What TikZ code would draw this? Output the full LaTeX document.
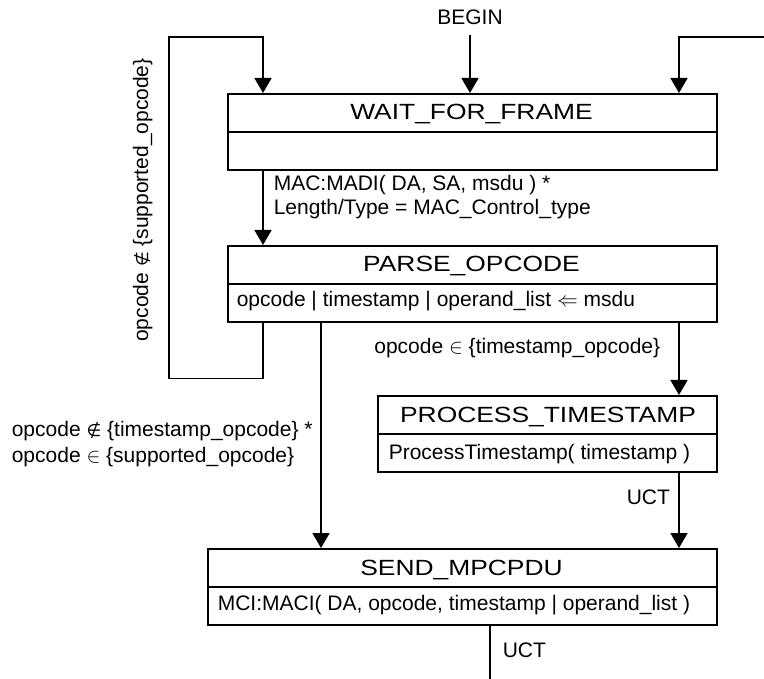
\documentclass[tikz,border=0pt]{standalone}
\usepackage{fontspec}
\setmainfont{Liberation Sans}
\newfontfamily\titlefont{Liberation Sans}[FakeStretch=1.2]
\newfontfamily\symbfont{DejaVu Sans}
\newcommand{\notelem}{{\symbfont\fontsize{17}{25}\selectfont ∉}}
\usetikzlibrary{arrows.meta}

\begin{document}
\begin{tikzpicture}[x=1pt,y=-1pt,line width=1.6pt,
  lbl/.style={font=\fontsize{21}{25}\selectfont,inner sep=0pt},
  ttl/.style={font=\titlefont\fontsize{22}{26}\selectfont,inner sep=0pt,anchor=base},
  statebox/.style={draw,rectangle,inner sep=0pt,minimum height=76pt,anchor=north west},
  arr/.style={-{Triangle[width=17pt,length=15pt]}}]

\useasboundingbox (0,0) rectangle (764,679);

% state boxes (upper half: name, lower half: actions)
\node[statebox,minimum width=489pt] (wait)  at (227,93)  {};
\node[statebox,minimum width=489pt] (parse) at (227,245) {};
\node[statebox,minimum width=339pt] (proc)  at (377,395) {};
\node[statebox,minimum width=509pt] (send)  at (207,548) {};
\foreach \s in {wait,parse,proc,send} \draw (\s.west) -- (\s.east);

% state names
\node[ttl] (waitT)  at (471.5,120) {WAIT\_FOR\_FRAME};
\node[ttl] (parseT) at (471.5,272) {PARSE\_OPCODE};
\node[ttl] (procT)  at (548,422) {PROCESS\_TIMESTAMP};
\node[ttl] (sendT)  at (461.5,575) {SEND\_MPCPDU};

% state actions
\node[lbl,anchor=base west] (parseA) at (236,307) {opcode | timestamp | operand\_list $\Leftarrow$ msdu};
\node[lbl,anchor=base west] (procA)  at (388,460) {ProcessTimestamp( timestamp )};
\node[lbl,anchor=base west] (sendA)  at (217,610) {MCI:MACI( DA, opcode, timestamp | operand\_list )};

% entry
\node[lbl] (begin) at (470,17) {BEGIN};

% connector x positions
\coordinate (xl) at (263,0);
\coordinate (xm) at (321,0);
\coordinate (xr) at (679,0);
\coordinate (xo) at (490,0);
\coordinate (loopL) at (169,37);
\coordinate (rin) at (764,37);
\coordinate (out) at (490,679);

% transitions
\draw[arr,shorten <=10pt] (begin.south) -- (begin.south |- wait.north);
\draw[arr] (rin) -| (wait.north -| xr);
\draw[arr] (parse.south -| xl) -- ++(0,56) -| (loopL) -| (wait.north -| xl);
\draw[arr] (wait.south -| xl) -- (parse.north -| xl);
\draw[arr] (parse.south -| xm) -- (send.north -| xm);
\draw[arr] (parse.south -| xr) -- (proc.north -| xr);
\draw[arr] (proc.south -| xr) -- (send.north -| xr);
\draw (send.south -| xo) -- (out);

% transition conditions
\node[lbl,anchor=base west] (madi)  at (273,191) {MAC:MADI( DA, SA, msdu ) *};
\node[lbl,anchor=base west] (ltype) at (273,215) {Length/Type = MAC\_Control\_type};
\node[lbl,anchor=base east] (tsop)  at (661,354) {opcode $\in$ \{timestamp\_opcode\}};
\node[lbl,anchor=base west] (nts)   at (11,436)  {opcode \notelem{} \{timestamp\_opcode\} *};
\node[lbl,anchor=base west] (isup)  at (11,462)  {opcode $\in$ \{supported\_opcode\}};
\node[lbl,anchor=base,rotate=90] (nsup) at (148,200) {opcode \notelem{} \{supported\_opcode\}};
\node[lbl,anchor=base west] (uct1)  at (626,504) {UCT};
\node[lbl,anchor=base west] (uct2)  at (502,657) {UCT};
\end{tikzpicture}
\end{document}
